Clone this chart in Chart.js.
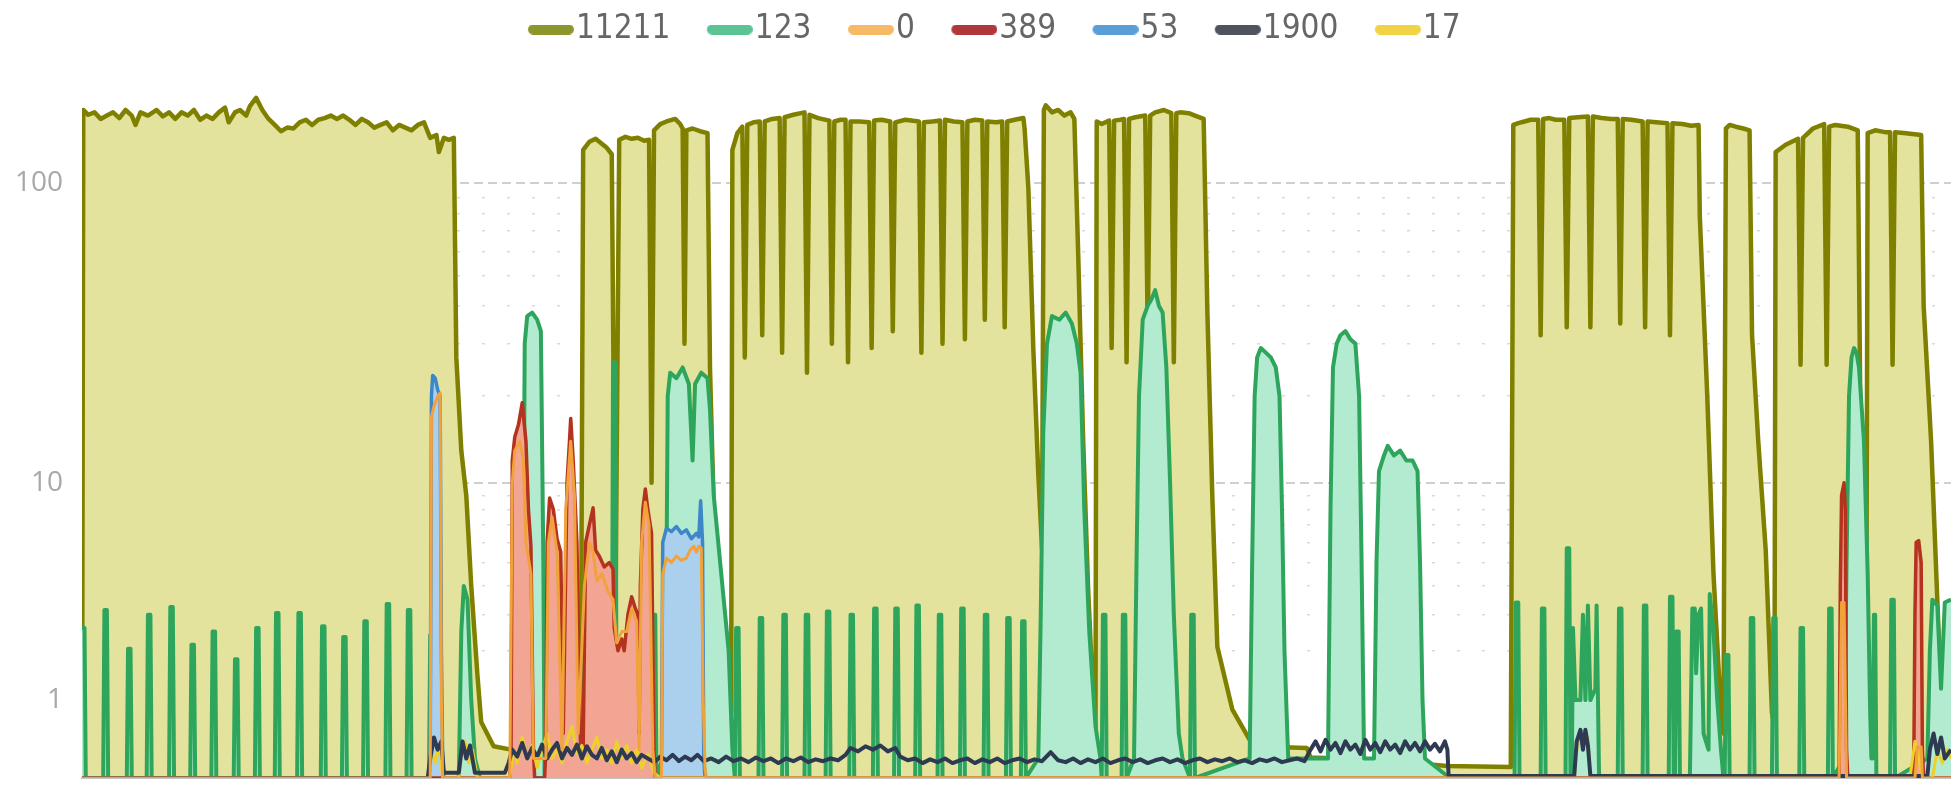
<!DOCTYPE html>
<html>
<head>
<meta charset="utf-8">
<title>chart</title>
<script src="https://cdn.jsdelivr.net/npm/chart.js@4.4.1/dist/chart.umd.min.js"></script>
<style>
  html, body { margin: 0; padding: 0; background: #fff; }
  #wrap { width: 1951px; height: 791px; }
</style>
</head>
<body>
<div id="wrap"><canvas id="chart" width="1951" height="791"></canvas></div>
<script>
// series, as [t, value] pairs
const legendLabels = ['11211', '123', '0', '389', '53', '1900', '17'];
const yTickValues = [1, 10, 100];
const yTickLabels = ['1', '10', '100'];
const yMinorValues = [2, 3, 4, 5, 6, 7, 8, 9, 20, 30, 40, 50, 60, 70, 80, 90];

const s11211 = [
  [0,0],[1,172],[5,166],[10,169],[15,161],[20,165],[25,169],[30,162],[35,172],[40,165],[43,154],[47,169],[53,165],
  [60,172],[65,164],[70,169],[75,161],[80,169],[85,165],[90,172],[95,160],[100,165],[105,161],[110,169],[115,175],
  [118,157],[123,169],[127,172],[132,165],[135,177],[140,188],[145,172],[150,161],[155,154],[160,147],[165,151],
  [170,150],[175,157],[180,160],[185,154],[190,160],[195,162],[200,165],[205,161],[210,165],[215,160],[220,154],
  [225,161],[230,157],[235,151],[240,154],[245,157],[250,148],[255,154],[260,151],[265,148],[270,154],[275,157],
  [280,140],[285,143],[287,126],[291,140],[295,138],[299,140],[301,27],[305,13],[309,9],[313,4],[318,1.45],
  [321,0.66],[331,0.34],[345,0.3],[360,0.27],[375,0.28],[390,0.23],[401,0.24],
  [403,128],[408,136],[413,139],[418,134],[422,130],[426,124],[429,3.0],[432,138],[437,141],[442,139],[447,140],
  [452,137],[456,138],[458,10],[460,148],[465,155],[470,158],[477,161],[481,155],[483,150],[484.5,30],[486,148],
  [491,150],[497,147],[503,145],[505,25],[508,8],[513,3],[518,1.3],[522,0.8],
  [523,128],[527,145],[531,152],[533,27],[535,154],[540,157],[545,158],[547,32],[549,158],[555,161],[561,162],
  [563,28],[565,163],[572,166],[581,169],[583,24],[585,166],[592,162],[601,159],[603,30],[605,158],[610,160],
  [614,160],[616,26],[618,158],[625,158],[633,157],[635,29],[637,159],[643,160],[650,158],[652,33],[654,157],
  [662,160],[673,158],[675,28],[677,157],[684,158],[690,159],[692,30],[694,160],[701,158],[708,157],[710,31],
  [712,158],[718,160],[724,159],[726,36],[728,158],[735,157],[740,158],[742,34],[744,158],[750,160],[757,162],
  [758,150],[761,97],[765,29],[769,10.8],[772,5.7],
  [773.5,172],[775,178],[780,169],[785,172],[790,165],[795,169],[798,161],
  [801,61],[805,14.6],[809,4.0],[813,1.05],[815,0.5],
  [816,158],[820,155],[826,159],[828,29],[830,159],[835,160],[838,161],[840,26],[842,161],[847,163],[855,165],
  [857,32],[859,165],[863,169],[870,172],[876,168],[878,26],[880,168],[883,169],[890,168],[895,165],[902,161],
  [905,38],[909,8.8],[913,2.1],[925,0.85],[942,0.34],[985,0.32],[988,0.21],[1035,0.19],[1098,0.12],[1149,0.11],
  [1151,154],[1155,156],[1160,158],[1165,160],[1171,160],[1173,32],[1175,161],[1180,162],[1185,160],[1192,160],
  [1194,34],[1196,162],[1203,163],[1211,164],[1213,34],[1215,164],[1222,162],[1230,161],[1235,161],[1237,35],
  [1239,161],[1246,160],[1255,158],[1257,34],[1259,158],[1266,157],[1275,156],[1277,32],[1279,156],[1287,155],
  [1294,153],[1300,154],
  [1301,78],[1307,20],[1312,4.5],[1318,0.8],[1320,0.5],
  [1322,150],[1325,154],[1330,152],[1336,150],[1341,148],[1343,32],[1348,14],[1354,5.6],[1359,0.8],[1361,0.6],
  [1362,126],[1370,133],[1380,139],[1382,25.5],[1384,140],[1392,150],[1401,155],[1403,25.5],[1405,152],
  [1410,154],[1420,152],[1428,148],[1430,20],[1434,3.8],[1435,3.5],
  [1436,145],[1442,148],[1450,146],[1454,146],[1456,25.5],[1458,146],[1465,145],[1472,144],[1479,143],
  [1481,40],[1487,14],[1494,1.7],[1503,0.5]
];

const s123 = [
  [0,2.6],[2,2.6],[3,0],
  [17,0],[18,3.15],[20,3.15],[21,0],[36,0],[37,2.05],[39,2.05],[40,0],[52,0],[53,3.0],[55,3.0],[56,0],
  [70,0],[71,3.25],[73,3.25],[74,0],[87,0],[88,2.15],[90,2.15],[91,0],[104,0],[105,2.5],[107,2.5],[108,0],
  [122,0],[123,1.8],[125,1.8],[126,0],[139,0],[140,2.6],[142,2.6],[143,0],[155,0],[156,3.05],[158,3.05],[159,0],
  [173,0],[174,3.05],[176,3.05],[177,0],[192,0],[193,2.65],[195,2.65],[196,0],[209,0],[210,2.35],[212,2.35],[213,0],
  [226,0],[227,2.8],[229,2.8],[230,0],[244,0],[245,3.35],[247,3.35],[248,0],[261,0],[262,3.15],[264,3.15],[265,0],
  [279,0],[280,2.4],[282,2.4],[283,0],
  [303,0],[305,2.5],[307,4.0],[310,3.5],[313,1.0],[316,0.2],[320,0],
  [354,0],[356,30],[358,37],[362,38],[366,36],[369,33],[371,5],[372,0],
  [388,0],[389,3],[391,3],[392,0],[402,0],[403,3],[405,3],[406,0],[426,0],[427,26],[429,26],[430,0],
  [437,0],[438,1.5],[440,1.5],[441,0],[458,0],[459,3],[461,3],[462,0],
  [469,0.3],[471,20],[473,24],[478,23],[483,25],[488,22],[491,12],[493,22],[498,24],[503,23],[505,18],[508,9],
  [515,4],[520,2.0],[523,0.3],
  [525,0],[526,2.6],[528,2.6],[529,0],[544,0],[545,2.9],[547,2.9],[548,0],[563,0],[564,3],[566,3],[567,0],
  [581,0],[582,3],[584,3],[585,0],[598,0],[599,3.1],[601,3.1],[602,0],[617,0],[618,3],[620,3],[621,0],
  [636,0],[637,3.2],[639,3.2],[640,0],[653,0],[654,3.2],[656,3.2],[657,0],[670,0],[671,3.3],[673,3.3],[674,0],
  [688,0],[689,3],[691,3],[692,0],[706,0],[707,3.2],[709,3.2],[710,0],[725,0],[726,3],[728,3],[729,0],
  [743,0],[744,2.9],[746,2.9],[747,0],[755,0],[756,2.8],[758,2.8],[759,0],
  [769,0.2],[771,3],[773,15],[776,30],[780,37],[786,36],[791,38],[796,35],[800,30],[803,24],[806,8],[810,2.5],
  [815,0.6],[819,0.2],
  [820,0],[821,3],[823,3],[824,0],[836,0],[837,3],[839,3],[840,0],
  [846,0.2],[848,5],[850,20],[853,36],[857,40],[860,42],[863,45],[866,40],[869,38],[872,25],[875,10],[878,3],
  [882,0.5],[885,0.2],
  [891,0],[892,3],[894,3],[895,0],
  [939,0.2],[941,5],[943,20],[945,27],[948,29],[952,28],[956,27],[960,25],[963,20],[965,8],[967,2],[970,0.2],
  [1002,0.2],[1004,8],[1006,25],[1009,30],[1012,32],[1016,33],[1020,31],[1024,30],[1027,20],[1029,5],[1031,0.2],
  [1039,0.2],[1041,5],[1043,11],[1047,12.5],[1050,13.5],[1055,12.5],[1060,13],[1065,12],[1070,12],[1074,11],
  [1076,5],[1078,1],[1080,0.2],[1100,0],
  [1152,0],[1153,3.4],[1155,3.4],[1156,0],[1173,0],[1174,3.2],[1176,3.2],[1177,0],[1193,0],[1194,5.7],[1196,5.7],
  [1197,0],[1198,0],[1199,2.6],[1201,1.0],[1205,1.0],[1207,3.0],[1209,1.0],[1211,3.3],[1213,1.0],[1217,1.2],
  [1218,3.3],[1220,0],
  [1235,0],[1236,3.2],[1238,3.2],[1239,0],[1255,0],[1256,3.3],[1258,3.3],[1259,0],[1276,0],[1277,3.6],[1279,3.6],
  [1280,0],[1281,0],[1282,2.5],[1284,2.5],[1285,0],
  [1293,0],[1295,3.2],[1297,3.2],[1298,1.5],[1300,3.0],[1302,3.2],[1304,0.5],[1308,0.3],[1309,3.7],[1312,2.5],
  [1315,1.0],[1318,0.3],[1320,0],
  [1321,0],[1322,1.9],[1324,1.9],[1325,0],[1341,0],[1342,2.9],[1344,2.9],[1345,0],[1359,0],[1360,2.9],[1362,2.9],
  [1363,0],[1381,0],[1382,2.6],[1384,2.6],[1385,0],[1404,0],[1405,3.2],[1407,3.2],[1408,0],
  [1417,0.2],[1419,5],[1421,20],[1423,27],[1425,29],[1427,28],[1429,25],[1433,14],[1436,4.5],[1438,0.8],
  [1439,0.2],[1440,0.2],[1441,3],[1442,3],[1443,0],
  [1454,0],[1455,3.5],[1457,3.5],[1458,0],
  [1484,0.2],[1486,2.0],[1488,3.5],[1492,3.3],[1495,1.2],[1498,3.4],[1503,3.5]
];

const s0 = [
  [0,0],[280,0],[281,17],[283,18.5],[286,20],[288,20.5],[289,1],[290,0],
  [344,0],[346,10],[348,13],[352,14],[355,12],[357,6],[361,4.5],[363,0.2],[373,0.2],[375,6],[378,7.5],
  [382,5.5],[386,0.3],[389,8],[393,14],[396,9],[399,0.5],[404,4],[408,6],[411,5.5],[414,4.2],[418,4.5],
  [423,3.8],[427,3.5],[430,2.2],[434,2.5],[438,2.5],[442,3.2],[446,2.8],[448,0.3],[450,6],[453,8.5],[456,7],
  [459,0.3],[461,0],
  [466,0],[467,4.5],[470,5.2],[474,5.0],[478,5.3],[482,5.1],[486,5.2],[489,5.6],[492,5.8],[494,5.5],[496,5.8],
  [498,5.7],[499.5,1],[501,0.1],[502,0],
  [1413,0],[1415,3.4],[1417,3.4],[1419,0],[1474,0],[1476,0.33],[1479,0.33],[1480,0],[1503,0]
];

const s389 = [
  [0,0],[344,0],[345,0.3],[346,12],[348,14.5],[351,16],[354,19],[357,14],[359,8],[361,5.8],[363,0.3],[364,0],
  [372,0],[373,0.3],[374,6],[376,8.8],[379,8],[382,6.2],[385,5.5],[387,0.5],[388,2],[390,10],[392,14],
  [393,16.8],[395,12],[398,6],[400,1],[401,0.3],[403,0.3],[405,6],[408,7],[411,8.1],[413,5.6],[416,5.3],
  [420,4.8],[424,5.0],[427,4.7],[428,2.6],[431,2.0],[434,2.3],[436,2.0],[439,3.0],[442,3.6],[445,3.2],[447,3.0],
  [448,0.5],[449,4],[451,8],[453,9.5],[455,8],[458,6.5],[460,0.3],[461,0],
  [1413,0],[1414,4],[1415,9],[1417,10],[1418,8],[1419,0.3],[1420,0],
  [1473,0],[1474,3],[1475,6],[1477,6.1],[1479,5],[1480,0.3],[1481,0],[1503,0]
];

const s53 = [
  [0,0],[279,0],[280,0.2],[281,20],[282,23.5],[284,23],[286,21],[288,20],[289,2],[290,0.2],[291,0],
  [465,0],[466,0.2],[467,6.0],[470,6.8],[474,6.6],[478,6.9],[482,6.5],[486,6.7],[490,6.2],[494,6.5],[496,6.3],
  [497.5,8.6],[499,6.0],[500,0.2],[501,0],[1503,0]
];

const s1900 = [
  [0,0],[278,0],[280,0.2],[283,0.45],[286,0.3],[289,0.4],[291,0.05],[303,0.05],[306,0.4],[309,0.2],[312,0.35],
  [316,0.05],[340,0.05],[343,0.15],[346,0.3],[350,0.22],[354,0.38],[358,0.2],[362,0.32],[366,0.22],[370,0.36],
  [374,0.2],[378,0.3],[382,0.38],[386,0.2],[390,0.32],[394,0.24],[398,0.36],[402,0.2],[406,0.34],[410,0.24],
  [414,0.2],[418,0.32],[422,0.18],[426,0.28],[430,0.16],[434,0.3],[438,0.2],[442,0.26],[446,0.16],[450,0.24],
  [455,0.2],[460,0.16],[465,0.22],[470,0.18],[475,0.24],[480,0.17],[485,0.22],[490,0.18],[495,0.24],[500,0.17],
  [506,0.2],[512,0.16],[518,0.22],[524,0.17],[530,0.2],[536,0.16],[542,0.21],[548,0.17],[554,0.2],[560,0.15],
  [566,0.2],[572,0.17],[578,0.21],[584,0.16],[590,0.19],[596,0.17],[602,0.2],[608,0.18],[614,0.24],[618,0.32],
  [624,0.28],[630,0.34],[636,0.3],[642,0.35],[648,0.28],[654,0.32],[658,0.22],[664,0.18],[670,0.2],[676,0.15],
  [682,0.19],[688,0.16],[694,0.2],[700,0.15],[706,0.18],[712,0.2],[718,0.15],[724,0.19],[730,0.16],[736,0.2],
  [742,0.15],[748,0.18],[754,0.2],[760,0.16],[766,0.19],[772,0.17],[779,0.27],[785,0.18],[791,0.16],[797,0.2],
  [803,0.15],[809,0.19],[815,0.16],[821,0.2],[827,0.15],[833,0.18],[839,0.2],[845,0.16],[851,0.19],[857,0.15],
  [863,0.18],[869,0.2],[875,0.16],[881,0.19],[887,0.15],[893,0.18],[899,0.2],[905,0.16],[911,0.19],[917,0.17],
  [923,0.2],[929,0.16],[935,0.18],[941,0.15],[947,0.19],[953,0.17],[959,0.2],[965,0.16],[971,0.18],[977,0.2],
  [983,0.17],[988,0.3],[992,0.4],[996,0.28],[1000,0.42],[1004,0.3],[1008,0.38],[1012,0.26],[1016,0.4],[1020,0.3],
  [1024,0.36],[1028,0.25],[1032,0.42],[1036,0.3],[1040,0.38],[1044,0.27],[1048,0.4],[1052,0.3],[1056,0.36],
  [1060,0.26],[1064,0.4],[1068,0.3],[1072,0.38],[1076,0.28],[1080,0.4],[1084,0.3],[1088,0.37],[1092,0.28],
  [1096,0.4],[1098,0.3],[1099,0.02],[1200,0.02],[1202,0.4],[1205,0.55],[1207,0.3],[1209,0.55],[1211,0.35],
  [1213,0.02],[1484,0.02],[1486,0.3],[1489,0.5],[1492,0.25],[1495,0.45],[1498,0.2],[1503,0.3]
];

const s17 = [
  [0,0],[279,0],[281,0.3],[284,0.15],[287,0.35],[290,0],[303,0],[305,0.25],[308,0.4],[311,0.15],[314,0.3],[318,0],
  [344,0],[347,0.3],[350,0.15],[354,0.45],[358,0.2],[362,0.35],[366,0.1],[370,0.3],[374,0.5],[378,0.2],[382,0.3],
  [386,0.15],[390,0.4],[394,0.6],[398,0.25],[402,0.35],[406,0.15],[410,0.3],[414,0.45],[418,0.2],[422,0.3],
  [426,0.15],[430,0.4],[434,0.2],[438,0.35],[442,0.15],[446,0.3],[450,0.1],[455,0.25],[460,0.05],[465,0],
  [1200,0],[1202,0.3],[1205,0.5],[1208,0.35],[1211,0.45],[1213,0],[1470,0],[1474,0.4],[1477,0.2],[1480,0],
  [1488,0],[1492,0.3],[1496,0.15],[1500,0.3],[1503,0.2]
];

const xMax = 1503;
const yMax = 256;

// y axis: log10(v + c), so zero sits on the floor
const OFFSET = 1.3;
const tf = v => Math.log10(Math.max(v, 0) + OFFSET) - Math.log10(OFFSET);

class OffsetLogScale extends Chart.Scale {
  determineDataLimits() {
    const { min, max } = this.getMinMax(false);
    this.min = Math.max(0, min);
    this.max = max;
  }
  buildTicks() {
    return yTickValues.concat(yMinorValues)
      .filter(v => v >= this.min && v <= this.max)
      .sort((a, b) => a - b)
      .map(v => ({ value: v, major: yTickValues.includes(v) }));
  }
  getLabelForValue(v) { return String(v); }
  configure() {
    super.configure();
    this._t0 = tf(this.min);
    this._t1 = tf(this.max);
  }
  getPixelForValue(v) {
    if (v === null || v === undefined || isNaN(v)) return NaN;
    return this.getPixelForDecimal((tf(v) - this._t0) / (this._t1 - this._t0));
  }
  getValueForPixel(p) {
    const f = this._t0 + this.getDecimalForPixel(p) * (this._t1 - this._t0);
    return OFFSET * Math.pow(10, f) - OFFSET;
  }
}
OffsetLogScale.id = 'offsetlog';
OffsetLogScale.defaults = {};
Chart.register(OffsetLogScale);

// legend marker: rounded pill, shifted right so it sits next to the text
const legendFont = 33;
const markerBox = 58;
function pill(color) {
  const pw = 46, ph = 10;
  const half = markerBox / 2 + legendFont / 2 - 2;
  const c = document.createElement('canvas');
  c.width = Math.ceil(half * 2);
  c.height = ph;
  const g = c.getContext('2d');
  const x0 = c.width / 2 + half - pw, r = ph / 2;
  g.fillStyle = color;
  g.beginPath();
  g.moveTo(x0 + r, 0);
  g.lineTo(x0 + pw - r, 0);
  g.arc(x0 + pw - r, r, r, -Math.PI / 2, Math.PI / 2);
  g.lineTo(x0 + r, ph);
  g.arc(x0 + r, r, r, Math.PI / 2, Math.PI * 1.5);
  g.closePath();
  g.fill();
  return c;
}

const seriesData = [s11211, s123, s0, s389, s53, s1900, s17];
const lineColors = ['#808000', '#2ea55c', '#f2a23a', '#b4331f', '#3d87c8', '#2d3a52', '#ecd12a'];
const fillColors = ['#e3e39d', '#b2ebcf', null, '#f2a592', '#abd0ee', null, null];
const markerColors = ['#8c962c', '#5cc494', '#f6ba66', '#b0383a', '#5a9ed8', '#4e535e', '#f0d445'];
const drawOrder = [7, 6, 1, 4, 5, 2, 3];
const lineWidths = [4.5, 4, 3, 3.5, 3.5, 4, 3];

const datasets = seriesData.map((d, i) => ({
  label: legendLabels[i],
  data: d,
  borderColor: lineColors[i],
  backgroundColor: fillColors[i] || 'rgba(0,0,0,0)',
  fill: fillColors[i] ? 'origin' : false,
  borderWidth: lineWidths[i],
  borderJoinStyle: 'round',
  pointRadius: 0,
  pointHitRadius: 0,
  pointStyle: pill(markerColors[i]),
  tension: 0,
  order: drawOrder[i]
}));

new Chart(document.getElementById('chart'), {
  type: 'line',
  data: { datasets },
  options: {
    responsive: false,
    animation: false,
    devicePixelRatio: 1,
    layout: { padding: { left: 11, right: 0, top: 3, bottom: 13 } },
    plugins: {
      tooltip: { enabled: false },
      legend: {
        position: 'top',
        labels: {
          usePointStyle: true,
          pointStyleWidth: markerBox,
          padding: 10,
          color: '#666',
          font: { family: "'Liberation Sans Narrow', 'DejaVu Sans Condensed', sans-serif", size: legendFont },
          sort: (a, b) => a.datasetIndex - b.datasetIndex
        }
      }
    },
    scales: {
      x: {
        type: 'linear',
        min: 0,
        max: xMax,
        ticks: { display: false },
        grid: { display: false, drawTicks: false },
        border: { display: true, color: '#c4c4c4', width: 2 }
      },
      y: {
        type: 'offsetlog',
        min: 0,
        max: yMax,
        ticks: {
          autoSkip: false,
          padding: 4,
          color: '#a8a8a8',
          font: { family: "'Open Sans', sans-serif", size: 28, lineHeight: 0.2 },
          callback: v => {
            const k = yTickValues.indexOf(v);
            return k >= 0 ? yTickLabels[k] : '';
          }
        },
        grid: {
          drawTicks: true,
          tickLength: 15,
          tickColor: 'rgba(0,0,0,0)',
          lineWidth: ctx => (ctx.tick && ctx.tick.major ? 2 : 1.5),
          color: ctx => {
            if (!ctx.tick) return '#c8c8c8';
            if (ctx.tick.value === 1) return 'rgba(0,0,0,0)';
            return ctx.tick.major ? '#cfcfcf' : '#dadada';
          }
        },
        border: {
          display: false,
          dash: ctx => (ctx.tick ? (ctx.tick.major ? [9, 5] : [3, 22]) : [])
        }
      }
    }
  }
});
</script>
</body>
</html>
